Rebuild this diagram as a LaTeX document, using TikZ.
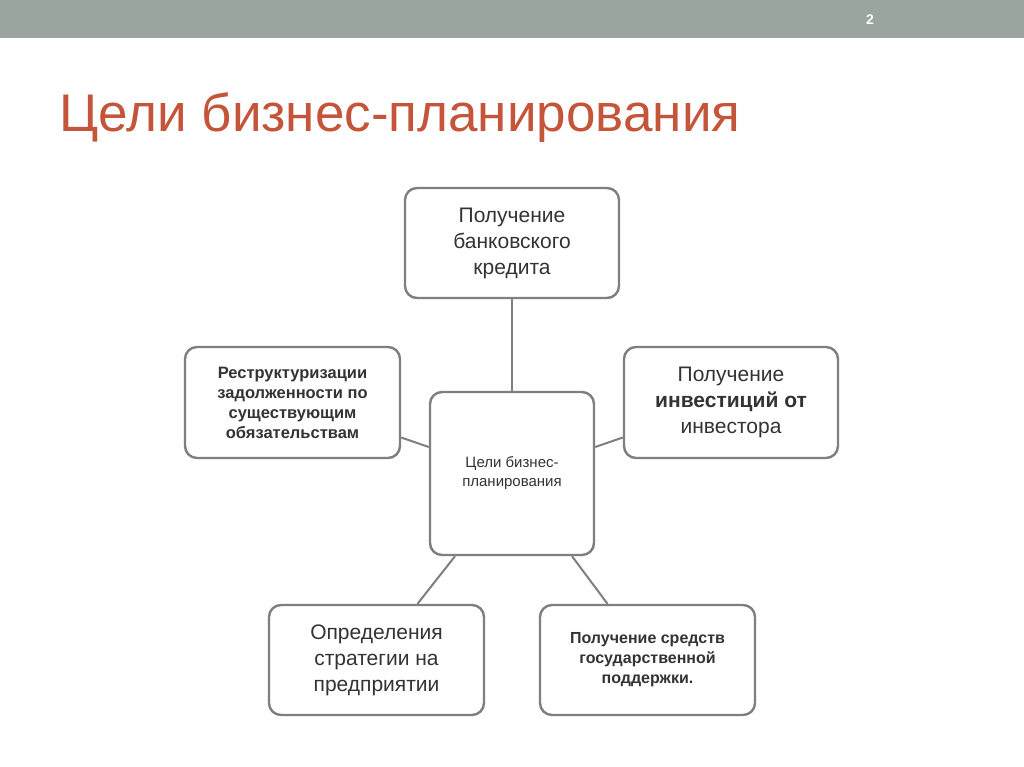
\documentclass[tikz,border=0pt]{standalone}
\usepackage{fontspec}
\setmainfont{Liberation Sans}
\definecolor{bar}{HTML}{9AA59F}
\definecolor{ttl}{HTML}{C4543A}
\definecolor{bord}{HTML}{7F7F7F}
\definecolor{txt}{HTML}{333333}
\begin{document}
\begin{tikzpicture}[x=1pt,y=-1pt,
  bx/.style={draw=bord,line width=2.4pt,rounded corners=12pt,fill=white,align=center,text=txt,inner sep=0pt},
  ln/.style={draw=bord,line width=2pt}]
\useasboundingbox[fill=white] (0,0) rectangle (1024,767);
\fill[bar] (0,0) rectangle (1024,38);
\node[text=white,font=\bfseries\fontsize{14}{16}\selectfont] (num) at (870,20) {2};
\node[anchor=west,text=ttl,font=\fontsize{53}{56}\selectfont] (title) at (56,118) {Цели бизнес-планирования};
\node[bx,minimum width=214pt,minimum height=110pt,font=\fontsize{21}{26}\selectfont] (top) at (512,243) {Получение\\банковского\\кредита};
\node[bx,minimum width=215pt,minimum height=111pt,font=\bfseries\fontsize{16.5}{20}\selectfont] (left) at (292.5,402.5) {Реструктуризации\\задолженности по\\существующим\\обязательствам};
\node[bx,minimum width=214pt,minimum height=111pt,font=\fontsize{21}{26}\selectfont] (right) at (731,402.5) {Получение\\\textbf{инвестиций от}\\инвестора};
\node[bx,minimum width=164pt,minimum height=163pt,font=\fontsize{15}{19}\selectfont] (c) at (512,473.5) {Цели бизнес-\\планирования};
\node[bx,minimum width=215pt,minimum height=110pt,font=\fontsize{21}{26}\selectfont] (bl) at (376.5,660) {Определения\\стратегии на\\предприятии};
\node[bx,minimum width=215pt,minimum height=110pt,font=\bfseries\fontsize{16}{20}\selectfont] (br) at (647.5,660) {Получение средств\\государственной\\поддержки.};
\draw[ln] (top.south) -- (c.north);
\draw[ln] ([yshift=-35pt]left.east) -- ([yshift=26.5pt]c.west);
\draw[ln] ([yshift=26.5pt]c.east) -- ([yshift=-35pt]right.west);
\draw[ln] ([xshift=-57pt]c.south) -- ([xshift=41pt]bl.north);
\draw[ln] ([xshift=60pt]c.south) -- ([xshift=-40pt]br.north);
\end{tikzpicture}
\end{document}
